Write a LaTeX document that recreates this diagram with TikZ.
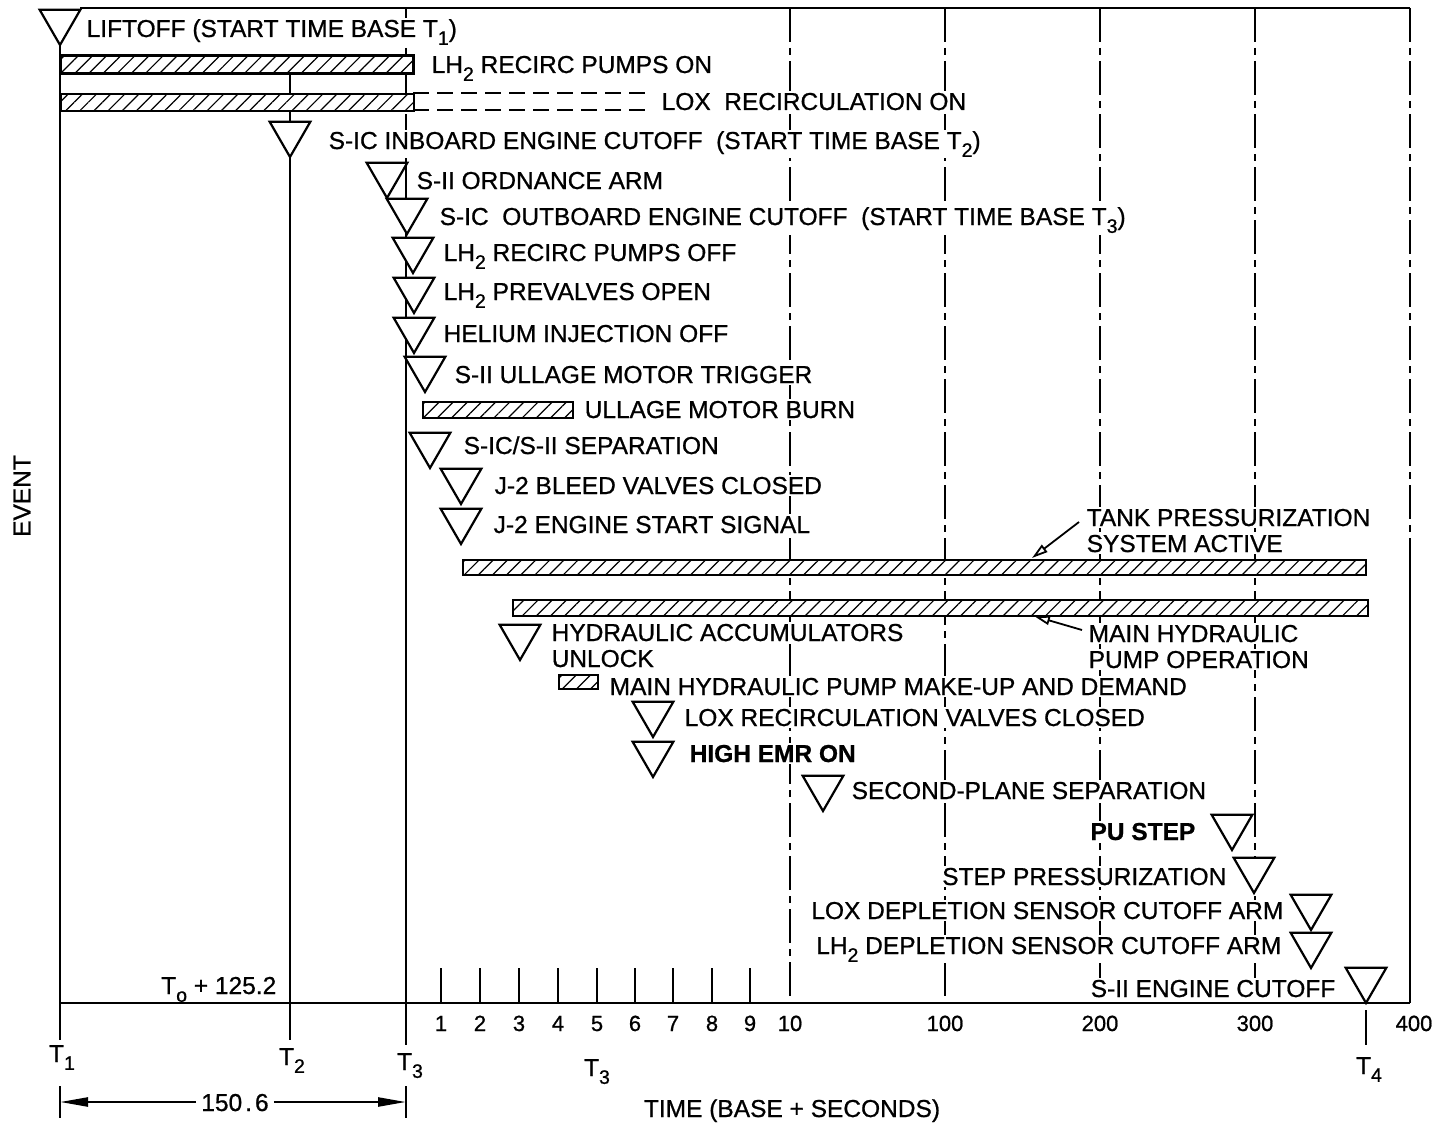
\documentclass[tikz,border=0pt]{standalone}
\usepackage{fontspec}
\setmainfont{Liberation Sans}[FakeBold=0.8]
\usetikzlibrary{shapes.geometric,patterns.meta,arrows.meta}
\newcommand\lsub[1]{\raisebox{-0.32em}{\fontsize{19.5}{19.5}\selectfont #1}}
\begin{document}
\begin{tikzpicture}[x=1pt,y=-1pt,
  lbl/.style={font=\fontsize{24.5}{24.5}\selectfont, inner sep=1.5pt, fill=white, anchor=base west},
  lblr/.style={lbl, anchor=base east},
  num/.style={font=\fontsize{22}{22}\selectfont, inner sep=1pt, anchor=base},
  tlab/.style={font=\fontsize{24.5}{24.5}\selectfont, inner sep=1pt, anchor=base},
  tri/.style={regular polygon, regular polygon sides=3, rotate=180, draw, fill=white, line width=2.2pt, minimum size=47pt, inner sep=0pt},
  hbar/.style={draw, line width=2.4pt, preaction={fill=white}, pattern={Lines[angle=45,distance=10pt,line width=1.2pt]}, inner sep=0pt, anchor=north west},
  gridl/.style={line width=2.6pt, dash pattern=on 34pt off 6pt on 7pt off 6pt},
  solidl/.style={line width=2.6pt},
  tick/.style={line width=1.8pt},
  leader/.style={line width=1.8pt, -{Triangle[open,length=16pt,width=9pt]}},
  dimarrow/.style={line width=2.4pt, -{Triangle[length=28pt,width=9pt]}}
]
\useasboundingbox (0,0) rectangle (1436,1124);

% ---- frame and grid lines
\coordinate (topl) at (80,8);
\coordinate (rb1) at (1410,8);
\coordinate (rb2) at (1410,560);
\coordinate (rb3) at (1410,1003);
\coordinate (axl) at (60,1003);
\draw[solidl] (topl) -- (rb1);
\draw[gridl] (rb1) -- (rb2);
\draw[solidl] (rb2) -- (rb3);
\draw[solidl] (axl) -- (rb3);
\foreach \x in {790,945,1100,1255}{
  \coordinate (ga\x) at (\x,8);
  \coordinate (gb\x) at (\x,1003);
  \draw[gridl] (ga\x) -- (gb\x);
}
% T1, T2, T3 lines
\coordinate (t1a) at (60,45);
\coordinate (t1b) at (60,1040);
\draw[solidl] (t1a) -- (t1b);
\coordinate (t2a) at (290,73);
\coordinate (t2b) at (290,1040);
\draw[solidl] (t2a) -- (t2b);
\coordinate (t3a) at (406,8);
\coordinate (t3b) at (406,160);
\coordinate (t3c) at (406,1045);
\draw[gridl] (t3a) -- (t3b);
\draw[solidl] (t3b) -- (t3c);
\coordinate (t4a) at (1366,1010);
\coordinate (t4b) at (1366,1045);
\draw[solidl] (t4a) -- (t4b);

% ---- small ticks 1..9
\foreach \x/\n in {441/1,480/2,519/3,558/4,597/5,635/6,673/7,712/8,750/9}{
  \coordinate (ka\n) at (\x,968);
  \coordinate (kb\n) at (\x,1003);
  \draw[tick] (ka\n) -- (kb\n);
  \node[num] (nl\n) at (\x,1031) {\n};
}
\node[num] (nl10) at (790,1031) {10};
\node[num] (nl100) at (945,1031) {100};
\node[num] (nl200) at (1100,1031) {200};
\node[num] (nl300) at (1255,1031) {300};
\node[num] (nl400) at (1414,1031) {400};

% ---- bars
\node[hbar, minimum width=353pt, minimum height=18pt] (blh) at (60,55) {};
\node[hbar, minimum width=353pt, minimum height=17pt] (blox) at (60,93) {};
\coordinate (lx1) at (413,93); \coordinate (lx2) at (650,93);
\coordinate (lx3) at (413,110); \coordinate (lx4) at (650,110);
\draw[line width=2.4pt, dash pattern=on 16pt off 8pt] (lx1) -- (lx2);
\draw[line width=2.4pt, dash pattern=on 16pt off 8pt] (lx3) -- (lx4);
\node[hbar, minimum width=150pt, minimum height=16pt] (bull) at (422,401) {};
\node[hbar, minimum width=903pt, minimum height=15pt] (btank) at (462,559) {};
\node[hbar, minimum width=855pt, minimum height=16pt] (bhyd) at (512,599) {};
\node[hbar, minimum width=39pt, minimum height=14pt] (bmak) at (558,674) {};

% ---- leader arrows
\coordinate (ta1) at (1079,522); \coordinate (ta2) at (1032,558);
\draw[leader] (ta1) -- (ta2);
\coordinate (ma1) at (1082,630); \coordinate (ma2) at (1034,616);
\draw[leader] (ma1) -- (ma2);

% ---- event triangles (center = tip - 23.5)
\node[tri] (e1) at (60,21.5) {};
\node[tri] (e4) at (290,133.5) {};
\node[tri] (e5) at (387,174.5) {};
\node[tri] (e6) at (407,210.5) {};
\node[tri] (e7) at (413,249.5) {};
\node[tri] (e8) at (414,289.5) {};
\node[tri] (e9) at (414,329.5) {};
\node[tri] (e10) at (425,368.5) {};
\node[tri] (e12) at (430,444.5) {};
\node[tri] (e13) at (461,480.5) {};
\node[tri] (e14) at (461,520.5) {};
\node[tri] (e17) at (520,636.5) {};
\node[tri] (e19) at (653,713.5) {};
\node[tri] (e20) at (653,753.5) {};
\node[tri] (e21) at (823,787.5) {};
\node[tri] (e22) at (1232,826.5) {};
\node[tri] (e23) at (1254,869.5) {};
\node[tri] (e24) at (1311,906.5) {};
\node[tri] (e25) at (1311,944.5) {};
\node[tri] (e26) at (1366,979.5) {};

% ---- event labels
\node[lbl] (l1) at (85,37) {LIFTOFF (START TIME BASE T\lsub{1})};
\node[lbl] (l2) at (430,73) {LH\lsub{2} RECIRC PUMPS ON};
\node[lbl] (l3) at (660,110) {LOX\ \ RECIRCULATION ON};
\node[lbl] (l4) at (327,149) {S-IC INBOARD ENGINE CUTOFF\ \ (START TIME BASE T\lsub{2})};
\node[lbl] (l5) at (415,189) {S-II ORDNANCE ARM};
\node[lbl] (l6) at (438,225) {S-IC\ \ OUTBOARD ENGINE CUTOFF\ \ (START TIME BASE T\lsub{3})};
\node[lbl] (l7) at (442,261) {LH\lsub{2} RECIRC PUMPS OFF};
\node[lbl] (l8) at (442,300) {LH\lsub{2} PREVALVES OPEN};
\node[lbl] (l9) at (442,342) {HELIUM INJECTION OFF};
\node[lbl] (l10) at (453,383) {S-II ULLAGE MOTOR TRIGGER};
\node[lbl] (l11) at (583,418) {ULLAGE MOTOR BURN};
\node[lbl] (l12) at (462,454) {S-IC/S-II SEPARATION};
\node[lbl] (l13) at (493,494) {J-2 BLEED VALVES CLOSED};
\node[lbl] (l14) at (492,533) {J-2 ENGINE START SIGNAL};
\node[lbl] (l15a) at (1085,526) {TANK PRESSURIZATION};
\node[lbl] (l15b) at (1085,552) {SYSTEM ACTIVE};
\node[lbl] (l16a) at (1087,642) {MAIN HYDRAULIC};
\node[lbl] (l16b) at (1087,668) {PUMP OPERATION};
\node[lbl] (l17a) at (550,641) {HYDRAULIC ACCUMULATORS};
\node[lbl] (l17b) at (550,667) {UNLOCK};
\node[lbl] (l18) at (608,695) {MAIN HYDRAULIC PUMP MAKE-UP AND DEMAND};
\node[lbl] (l19) at (683,726) {LOX RECIRCULATION VALVES CLOSED};
\node[lbl, font=\fontsize{24.5}{24.5}\selectfont\bfseries] (l20) at (688,762) {HIGH EMR ON};
\node[lbl] (l21) at (850,799) {SECOND-PLANE SEPARATION};
\node[lblr, font=\fontsize{24.5}{24.5}\selectfont\bfseries] (l22) at (1197,840) {PU STEP};
\node[lblr] (l23) at (1228,885) {STEP PRESSURIZATION};
\node[lblr] (l24) at (1285,919) {LOX DEPLETION SENSOR CUTOFF ARM};
\node[lblr] (l25) at (1283,954) {LH\lsub{2} DEPLETION SENSOR CUTOFF ARM};
\node[lblr] (l26) at (1337,997) {S-II ENGINE CUTOFF};

% ---- axis labels
\node[lblr, fill=none] (t0) at (278,994) {T\lsub{o} + 125.2};
\node[tlab] (lt1) at (62,1062) {T\lsub{1}};
\node[tlab] (lt2) at (292,1065) {T\lsub{2}};
\node[tlab] (lt3) at (410,1070) {T\lsub{3}};
\node[tlab] (lt3m) at (597,1076) {T\lsub{3}};
\node[tlab] (lt4) at (1369,1074) {T\lsub{4}};
\node[tlab] (xlab) at (792,1117) {TIME (BASE + SECONDS)};
\node[font=\fontsize{24.5}{24.5}\selectfont, rotate=90, inner sep=1pt] (ylab) at (22,496) {EVENT};

% ---- 150.6 dimension
\coordinate (dl) at (60,1102);
\coordinate (dr) at (406,1102);
\coordinate (dla) at (60,1086); \coordinate (dlb) at (60,1118);
\coordinate (dra) at (406,1086); \coordinate (drb) at (406,1118);
\draw[tick] (dla) -- (dlb);
\draw[tick] (dra) -- (drb);
\node[tlab, inner sep=5pt] (d150) at (235,1111) {150\hspace{3pt}.\hspace{3pt}6};
\draw[dimarrow] (d150.west |- dl) -- (dl);
\draw[dimarrow] (d150.east |- dr) -- (dr);
\end{tikzpicture}
\end{document}
